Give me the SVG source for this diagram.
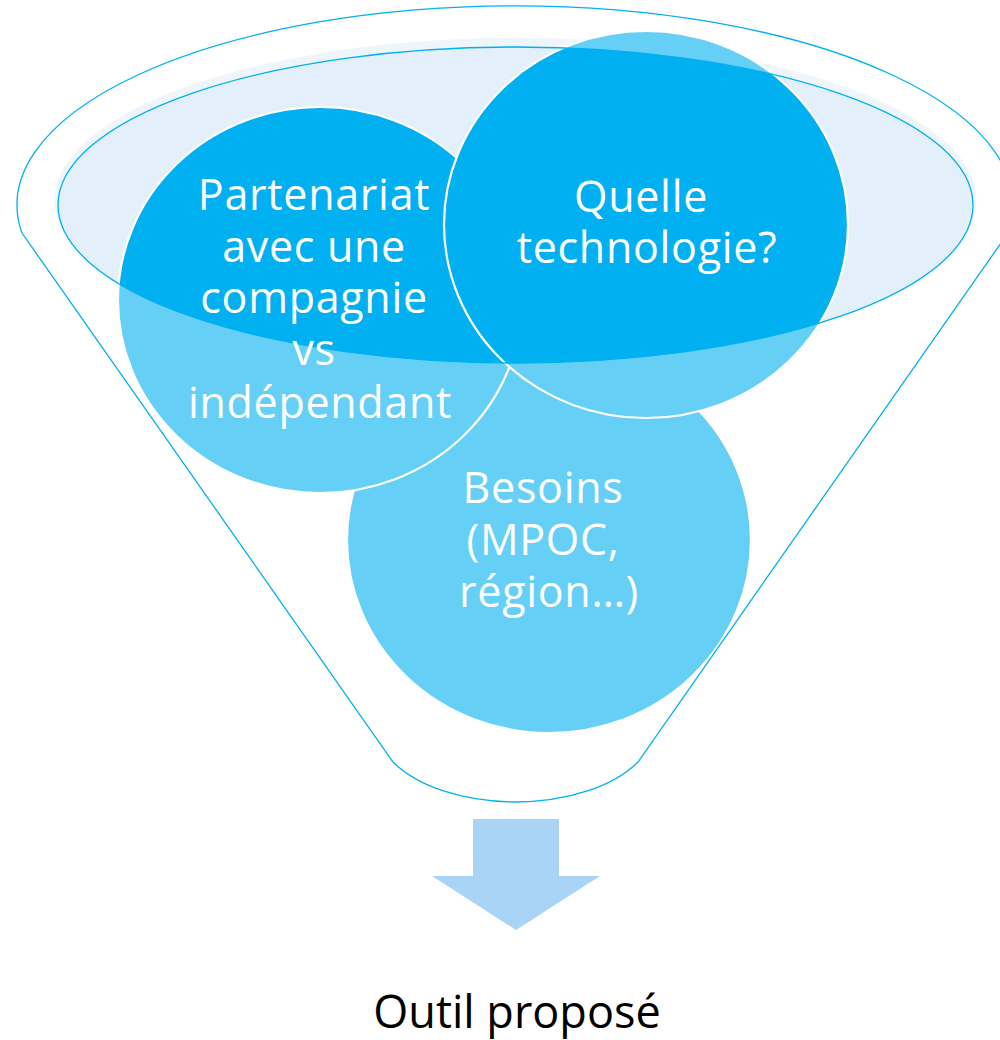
<svg xmlns="http://www.w3.org/2000/svg" width="1000" height="1040" viewBox="0 0 1000 1040">
  <style>
    .bubble { fill: #00B0F0; stroke: #FFFFFF; stroke-width: 2.2; }
    .label { font-family: "Open Sans", "DejaVu Sans", sans-serif; font-size: 43px; letter-spacing: 0.7px; fill: #FFFFFF; text-anchor: middle; }
    .caption { font-family: "Open Sans", "DejaVu Sans", sans-serif; font-size: 45px; fill: #000000; text-anchor: middle; }
    .rim { fill: none; stroke: #00B0F0; stroke-width: 1.3; }
  </style>

  <!-- funnel mouth (light backdrop behind the bubbles) -->
  <ellipse id="mouth-fill" cx="515.5" cy="200.5" rx="461" ry="162.5" fill="#E3F0FB"/>

  <!-- bubbles -->
  <g id="node-besoins">
    <ellipse class="bubble" cx="549" cy="540" rx="202" ry="193"/>
  </g>
  <g id="node-partenariat">
    <ellipse class="bubble" cx="320" cy="300" rx="202" ry="193"/>
  </g>
  <g id="node-technologie">
    <ellipse class="bubble" cx="646" cy="224.5" rx="202" ry="193.5"/>
  </g>

  <!-- funnel body: translucent white veil with the mouth cut out -->
  <g id="funnel">
    <path fill="#FFFFFF" fill-opacity="0.4" fill-rule="evenodd"
          d="M 22 233 A 498 199 0 1 1 1008 233 L 638 762 A 140 77.5 0 0 1 393 762 Z
             M 58 205 A 457.5 158 0 1 0 973 205 A 457.5 158 0 1 0 58 205 Z"/>
    <path class="rim" d="M 22 233 A 498 199 0 1 1 1008 233 L 638 762 A 140 77.5 0 0 1 393 762 Z"/>
    <ellipse class="rim" cx="515.5" cy="205" rx="457.5" ry="158"/>
  </g>

  <!-- bubble labels -->
  <g id="labels">
    <text class="label">
      <tspan x="320" y="210">Partenariat</tspan>
      <tspan x="320" y="262">avec une</tspan>
      <tspan x="320" y="313">compagnie</tspan>
      <tspan x="320" y="365">vs</tspan>
      <tspan x="320" y="418">indépendant</tspan>
    </text>
    <text class="label">
      <tspan x="647" y="212">Quelle</tspan>
      <tspan x="647" y="263">technologie?</tspan>
    </text>
    <text class="label">
      <tspan x="549" y="503">Besoins</tspan>
      <tspan x="549" y="555">(MPOC,</tspan>
      <tspan x="549" y="607">région…)</tspan>
    </text>
  </g>

  <!-- output arrow and result -->
  <g id="connectors">
    <polygon id="arrow-down" fill="#AAD4F5"
             points="473,819 559,819 559,876 600,876 516,930 432,876 473,876"/>
  </g>
  <g id="node-outil">
    <text class="caption" x="517" y="1028">Outil proposé</text>
  </g>
</svg>
